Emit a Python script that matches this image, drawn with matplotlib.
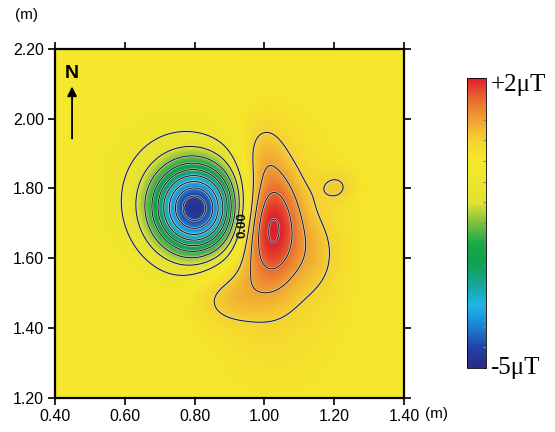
import numpy as np
import matplotlib
matplotlib.use("Agg")
import matplotlib.pyplot as plt
from matplotlib.colors import LinearSegmentedColormap, Normalize

# anomaly sources: centre x, centre y (m), amplitude (uT), width x, width y (m)
src_x = [0.805, 0.740, 1.016, 1.030, 0.995, 1.150, 0.890, 1.207]
src_y = [1.740, 1.800, 1.696, 1.620, 1.910, 1.610, 1.490, 1.805]
src_amp = [-4.4, -0.6, 1.7, 0.6, 0.4, 0.32, 0.5, 0.46]
src_sx = [0.087, 0.130, 0.058, 0.115, 0.045, 0.050, 0.070, 0.035]
src_sy = [0.092, 0.140, 0.115, 0.200, 0.070, 0.080, 0.060, 0.032]

vmin, vmax = -5.0, 2.0
levels = [-5.0, -4.5, -4.0, -3.5, -3.0, -2.5, -2.0, -1.5, -1.0, -0.5, 0.5, 1.0, 1.5, 2.0]
xticks = [0.40, 0.60, 0.80, 1.00, 1.20, 1.40]
yticks = [1.20, 1.40, 1.60, 1.80, 2.00, 2.20]

# colour scale of the survey map
cmap_vals = [-5.0, -4.5, -4.0, -3.5, -3.0, -2.5, -2.0, -1.5, -1.0, 0.0, 0.5, 1.0, 1.5, 2.0]
cmap_cols = ["#2b2a86", "#2243a6", "#1c82d2", "#1fb6e8", "#17a69c", "#10a050", "#18a848",
             "#7cc040", "#e2e232", "#f6e82b", "#f5d232", "#f0a233", "#e96a30", "#df1f2b"]
pos = [(v - vmin) / (vmax - vmin) for v in cmap_vals]
cmap = LinearSegmentedColormap.from_list("mag", list(zip(pos, cmap_cols)))

gx = np.linspace(0.40, 1.40, 401)
gy = np.linspace(1.20, 2.20, 401)
X, Y = np.meshgrid(gx, gy)
Z = np.zeros_like(X)
for x0, y0, a, sx, sy in zip(src_x, src_y, src_amp, src_sx, src_sy):
    Z += a * np.exp(-0.5 * (((X - x0) / sx) ** 2 + ((Y - y0) / sy) ** 2))

plt.rcParams["font.family"] = ["Liberation Sans", "DejaVu Sans"]
fig = plt.figure(figsize=(5.55, 4.32), dpi=100)
ax = fig.add_axes([0.099, 0.079, 0.629, 0.808])
norm = Normalize(vmin=vmin, vmax=vmax)
im = ax.imshow(Z, extent=[0.40, 1.40, 1.20, 2.20], origin="lower", cmap=cmap, norm=norm,
               interpolation="bilinear", aspect="auto")
ax.contour(X, Y, Z, levels=levels, colors="#d8d8d8", linewidths=1.5, linestyles="solid")
ax.contour(X, Y, Z, levels=levels, colors="#111111", linewidths=0.7, linestyles="solid")
ax.text(0.936, 1.696, "0.00", rotation=90, ha="center", va="center", fontsize=9.5,
        fontweight="bold", color="#111111")

ax.set_xlim(0.40, 1.40)
ax.set_ylim(1.20, 2.20)
ax.set_xticks(xticks)
ax.set_yticks(yticks)
ax.set_xticklabels(["%.2f" % t for t in xticks])
ax.set_yticklabels(["%.2f" % t for t in yticks])
ax.tick_params(direction="out", length=5, width=1.2, labelsize=11.5, top=True, right=True,
               pad=3)
for s in ax.spines.values():
    s.set_linewidth(1.6)

# north arrow
ax.annotate("", xy=(0.449, 2.10), xytext=(0.449, 1.935),
            arrowprops=dict(arrowstyle="-|>", color="black", lw=1.3, mutation_scale=14))
ax.text(0.449, 2.13, "N", ha="center", va="center", fontsize=14, fontweight="bold")

fig.text(0.027, 0.955, "(m)", fontsize=11)
fig.text(0.765, 0.033, "(m)", fontsize=11)

cax = fig.add_axes([0.841, 0.148, 0.034, 0.671])
cb = fig.colorbar(im, cax=cax, ticks=np.arange(-5.0, 2.01, 0.5))
cb.ax.tick_params(direction="in", length=2, color="#888888", labelright=False)
cb.outline.set_linewidth(0.6)
fig.text(0.884, 0.803, "+2\u03bcT", family="Liberation Serif", fontsize=18, va="center")
fig.text(0.884, 0.148, "-5\u03bcT", family="Liberation Serif", fontsize=18, va="center")

fig.savefig("out.png", dpi=100)
